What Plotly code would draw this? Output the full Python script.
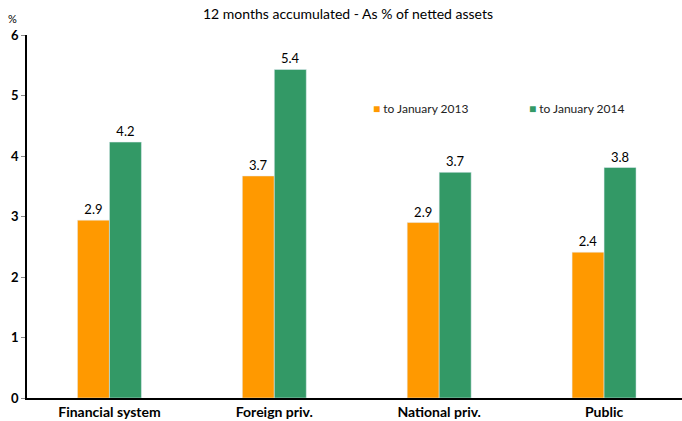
import plotly.graph_objects as go

categories = ["Financial system", "Foreign priv.", "National priv.", "Public"]
jan2013 = [2.94, 3.67, 2.90, 2.41]
jan2014 = [4.23, 5.43, 3.73, 3.81]
series_names = ["to January 2013", "to January 2014"]
colors = ["#FF9900", "#339966"]
y_ticks = [0, 1, 2, 3, 4, 5, 6]

FONT = "Lato"
fig = go.Figure()
for vals, name, col in zip([jan2013, jan2014], series_names, colors):
    fig.add_trace(go.Bar(x=categories, y=vals, name=name,
                         marker_color=col,
                         texttemplate="%{y:.1f}", textposition="outside",
                         textfont=dict(size=13, color="#000000", family=FONT),
                         cliponaxis=False, showlegend=False))

L, W = 26.5, 655.5
legend_ann = []
for name, col, xpx in zip(series_names, colors, [371, 527]):
    legend_ann.append(dict(
        text=f"<span style='color:{col};font-size:12px'>■</span> {name}",
        xref="paper", yref="paper", x=(xpx - L) / W, y=(398 - 108) / 363.5,
        xanchor="left", yanchor="middle", showarrow=False,
        font=dict(size=12, family=FONT, color="#222222")))

fig.update_layout(
    width=682, height=421,
    margin=dict(l=26.5, r=0, t=34.5, b=23, autoexpand=False),
    barmode="group", bargap=0.612, bargroupgap=0,
    plot_bgcolor="white", paper_bgcolor="white",
    font=dict(family=FONT, color="#000000"),
    xaxis=dict(range=[-0.5, 3.4727], showline=True, linecolor="#000000", linewidth=1.5,
               ticks="", tickfont=dict(size=14, family=FONT, weight="bold"),
               showgrid=False, zeroline=False),
    yaxis=dict(range=[0, 6], tickvals=y_ticks, showline=True, linecolor="#000000",
               linewidth=1.5, ticks="outside", ticklen=4, tickcolor="#888888",
               tickfont=dict(size=13, family=FONT, weight="bold"),
               showgrid=False, zeroline=False),
    annotations=[
        dict(text="12 months accumulated - As % of netted assets", xref="paper", yref="paper",
             x=(348 - L) / W, y=1, yshift=22, xanchor="center", yanchor="middle", showarrow=False,
             font=dict(size=14, family=FONT)),
        dict(text="%", xref="paper", yref="paper", x=0, xshift=-15, y=1, yshift=17,
             xanchor="center", yanchor="middle", showarrow=False,
             font=dict(size=11, family=FONT)),
    ] + legend_ann,
)
fig.write_html("out.html")
